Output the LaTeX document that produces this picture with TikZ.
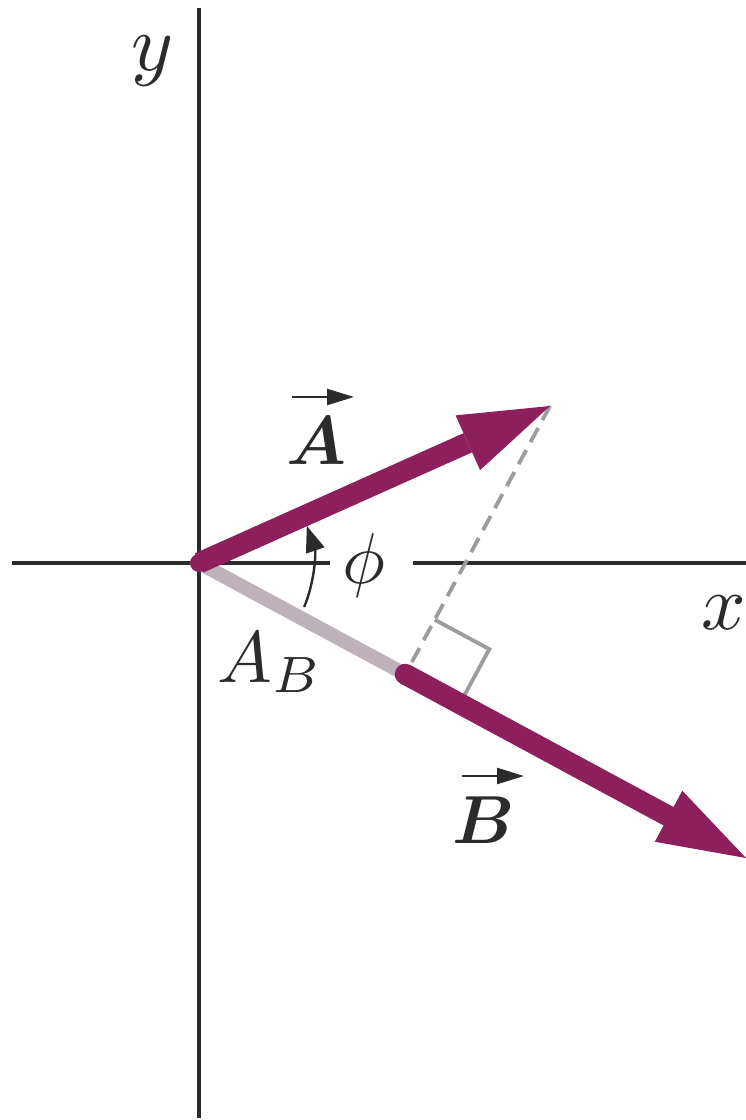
\documentclass[tikz,border=0pt]{standalone}
\usepackage{bm}
\usetikzlibrary{calc,arrows.meta}
\definecolor{vecc}{HTML}{8E1F5D}
\definecolor{projc}{HTML}{BEB2BA}
\definecolor{guidec}{HTML}{9C9C9C}
\definecolor{inkc}{HTML}{2B2B2B}
\tikzset{
  axisline/.style={line width=3.6pt, draw=inkc},
  vecshaft/.style={line width=21pt, draw=vecc},
  vechead/.style={fill=vecc},
  guide/.style={line width=3.8pt, draw=guidec},
  lbl/.style={inner sep=0pt, text=inkc},
  overarrow/.style={line width=2.4pt, draw=inkc, -{Triangle[length=27pt,width=16pt]}},
  anglearrow/.style={line width=2.4pt, draw=inkc, -{Triangle[length=26pt,width=19pt]}},
}
\begin{document}
\begin{tikzpicture}[x=1pt,y=-1pt]
\useasboundingbox (0,0) rectangle (746,1120);
\fill[white] (0,0) rectangle (746,1120);
% key points
\coordinate (O) at (199,563);
\coordinate (Atip) at (550,406);
\coordinate (Btip) at (746,858);
\coordinate (F) at ($(O)!(Atip)!(Btip)$);
% axes
\coordinate (ytop) at (199,8);
\coordinate (ybot) at (199,1118);
\coordinate (xl) at (12,563);
\coordinate (xg1) at (330,563);
\coordinate (xg2) at (413,563);
\coordinate (xr) at (746,563);
\draw[axisline] (ytop) -- (ybot);
\draw[axisline] (xl) -- (xg1) (xg2) -- (xr);
% perpendicular guide and right-angle mark
\draw[guide, dash pattern=on 16pt off 9pt] (Atip) -- (F);
\coordinate (P1) at ($(F)!62pt!(Atip)$);
\coordinate (P2) at ($(F)!62pt!(Btip)$);
\coordinate (Pc) at ($(P1)+(P2)-(F)$);
\draw[guide] (P1) -- (Pc) -- (P2);
% angle arrow
\coordinate (arcS) at ($(O)+(-22.7:114pt)$);
\draw[anglearrow] (arcS) arc[start angle=-22.7, end angle=19, radius=114pt];
% projection segment
\draw[line width=14pt, draw=projc] (O) -- (F);
% vector B
\coordinate (Bbase) at ($(Btip)!88pt!(O)$);
\draw[vecshaft, line cap=round] (F) -- (Bbase);
\fill[vechead] (Btip) -- ($(Bbase)!29pt!90:(Btip)$) -- ($(Bbase)!29pt!-90:(Btip)$) -- cycle;
% vector A
\coordinate (Abase) at ($(Atip)!90pt!(O)$);
\draw[vecshaft] (O) -- (Abase);
\fill[vechead] (Atip) -- ($(Abase)!30pt!90:(Atip)$) -- ($(Abase)!30pt!-90:(Atip)$) -- cycle;
\fill[vecc] (O) circle[radius=9pt];
% labels
\node[lbl, scale=8.0] (ylab) at (153,61) {$y$};
\node[lbl, scale=7.8] (xlab) at (724,613) {$x$};
\node[lbl, scale=6.9] (Alab) at (316,441) {$\bm{A}$};
\coordinate (Aar1) at (292,397);
\coordinate (Aar2) at (354,397);
\draw[overarrow] (Aar1) -- (Aar2);
\node[lbl, scale=7.2] (philab) at (364,565) {$\phi$};
\node[lbl, anchor=base west, scale=7.3] (ABlab) at (216,682) {$A_B$};
\node[lbl, scale=6.8] (Blab) at (484,820) {$\bm{B}$};
\coordinate (Bar1) at (462,776);
\coordinate (Bar2) at (524,776);
\draw[overarrow] (Bar1) -- (Bar2);
\end{tikzpicture}
\end{document}
